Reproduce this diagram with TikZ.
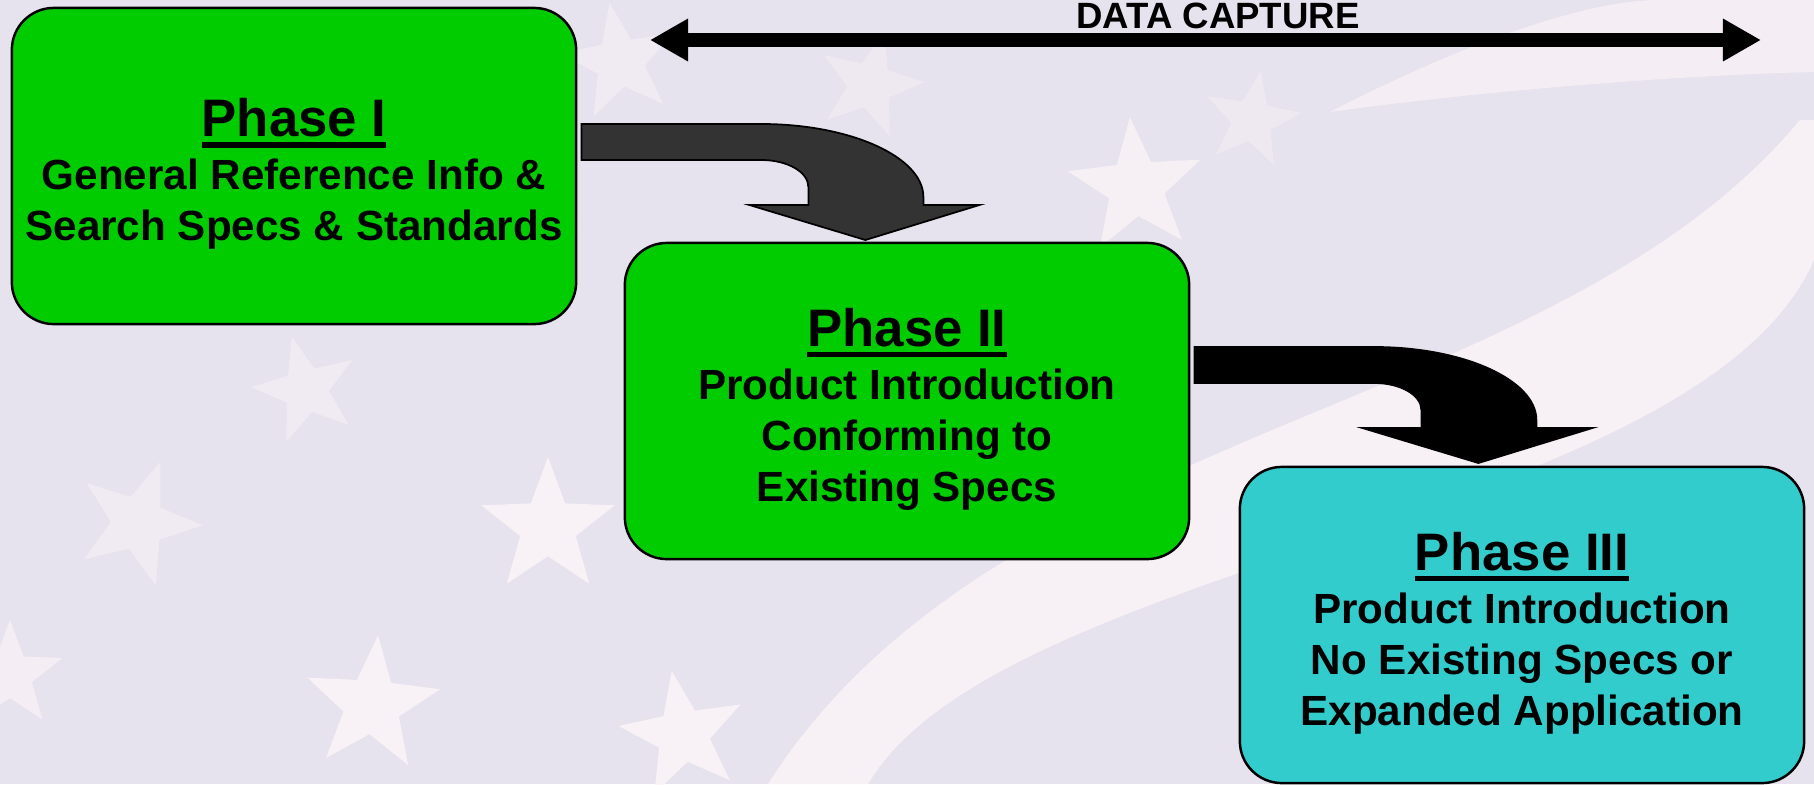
\documentclass[tikz,border=0pt]{standalone}
\usepackage{fontspec}
\setmainfont{Liberation Sans}
\usetikzlibrary{arrows.meta,shapes.geometric,calc}

\definecolor{phasegreen}{HTML}{00CC00}
\definecolor{phasecyan}{HTML}{33CCCC}
\definecolor{arrowgray}{HTML}{333333}
\definecolor{bgback}{HTML}{E6E2EE}
\definecolor{bgwhite}{HTML}{FBF4F7}

\tikzset{
  phasebox/.style={draw=black, line width=0.7pt, rounded corners=0.42cm,
    minimum width=5.64cm, minimum height=3.16cm, inner sep=0pt, align=center,
    font=\fontsize{12}{14.5}\selectfont\bfseries},
  bgstar/.style={star, star points=5, star point ratio=2.4, fill=bgwhite,
    inner sep=0pt},
}
\newcommand{\phasehead}[1]{{\fontsize{15}{18}\selectfont\vtop{\hbox{\rule{0pt}{15.5pt}#1}\kern1.4pt\hrule height 1.6pt}}}

\begin{document}
\begin{tikzpicture}[x=0.01cm, y=-0.01cm]
    \useasboundingbox (0,0) rectangle (1814,784);
    \clip (0,0) rectangle (1814,784);

    % flag background
    \fill[bgback] (0,0) rectangle (1814,784);
    \fill[bgwhite, opacity=.85] (1800,120) .. controls (1550,420) and (1000,420) .. (768,784)
        -- (868,784) .. controls (1000,560) and (1700,520) .. (1814,260) -- (1814,120) -- cycle;
    \fill[bgwhite, opacity=.7] (1330,112) .. controls (1450,50) and (1580,0) .. (1660,0)
        -- (1814,0) -- (1814,72) .. controls (1650,76) and (1450,95) .. (1330,112) -- cycle;
    \foreach \x/\y/\s/\a/\o [count=\i] in {620/62/1.2/10/.5, 870/85/1.1/-15/.4,
        1136/187/1.4/5/.8, 1252/120/1.0/-10/.4, 306/390/1.1/15/.5, 138/523/1.3/-20/.5,
        548/527/1.4/0/.9, 372/705/1.4/-5/.9, 683/735/1.3/10/.9, 10/675/1.1/0/.7}
        \node[bgstar, minimum size=\s cm, rotate=\a, opacity=\o] (star\i) at (\x,\y) {};

    % phases
    \node[phasebox, fill=phasegreen] (p1) at (294,166)
        {\phasehead{Phase I}\\[0.6pt]General Reference Info \&\\Search Specs \& Standards};
    \node[phasebox, fill=phasegreen] (p2) at (907,401)
        {\phasehead{Phase II}\\[0.6pt]Product Introduction\\Conforming to\\Existing Specs};
    \node[phasebox, fill=phasecyan] (p3) at (1522,625)
        {\phasehead{Phase III}\\[0.6pt]Product Introduction\\No Existing Specs or\\Expanded Application};

    % bent arrows between phases
    \foreach \from/\dy/\col in {p1/-42/arrowgray, p2/-54/black} {
        \begin{scope}[shift={($(\from.east)+(4,\dy)$)}]
            \filldraw[fill=\col, draw=black, line width=0.5pt] (0,0) -- (180,0)
                .. controls (269,0) and (342,33) .. (342,73) -- (342,81) -- (398,81)
                -- (284,116) -- (168,81) -- (227,81) -- (227,63)
                .. controls (227,48) and (206,36) .. (180,36) -- (0,36) -- cycle;
        \end{scope}
    }

    % data capture
    \coordinate (capL) at (650,40);
    \coordinate (capR) at (1761,40);
    \draw[line width=0.14cm, {Triangle[length=0.38cm,width=0.40cm]}-{Triangle[length=0.38cm,width=0.40cm]}]
        (capL) -- (capR);
    \node[font=\fontsize{10.4}{12}\selectfont\bfseries, anchor=base, inner sep=0pt] (cap) at (1218,28) {DATA CAPTURE};
\end{tikzpicture}
\end{document}
